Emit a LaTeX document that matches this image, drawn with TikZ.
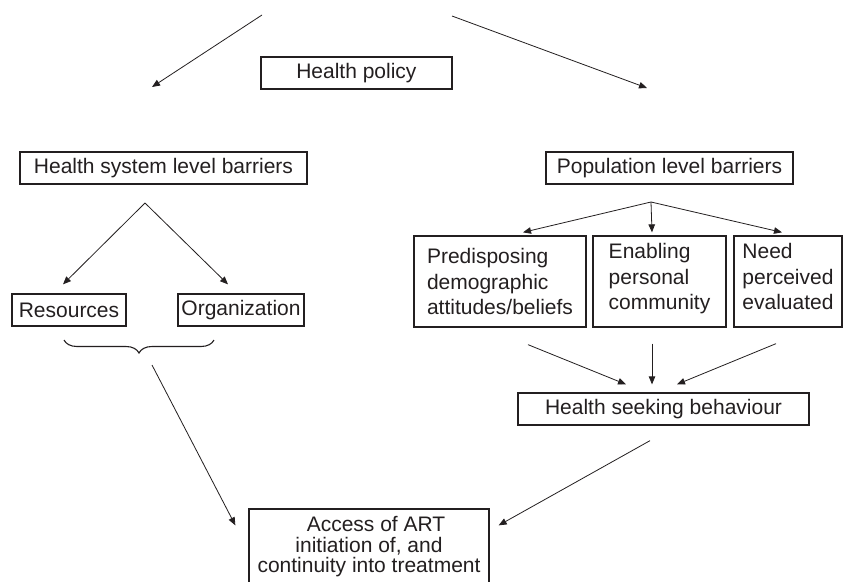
\documentclass[tikz,border=0pt]{standalone}
\usepackage{fontspec}
\setmainfont{Liberation Sans}
\usetikzlibrary{arrows.meta,decorations.pathreplacing}
\definecolor{ink}{HTML}{231F20}
\begin{document}
\begin{tikzpicture}[x=1pt,y=-1pt,
  box/.style={draw=ink, line width=1.3pt, inner sep=0pt, text=ink,
    font=\fontsize{21}{25.5}\selectfont},
  conn/.style={draw=ink, line width=0.8pt, -{Triangle[length=8pt,width=6.5pt]}},
  line/.style={draw=ink, line width=0.8pt}]
\useasboundingbox (0,0) rectangle (843,581);
\fill[white] (0,0) rectangle (843,581);

% boxes
\node[box, minimum width=191pt, minimum height=32pt] (hp) at (356.4,73) {Health policy};
\node[box, minimum width=287pt, minimum height=32pt] (hs) at (163.5,168) {Health system level barriers};
\node[box, minimum width=247pt, minimum height=32pt] (pop) at (669.5,168) {Population level barriers};
\node[box, minimum width=114pt, minimum height=32pt] (res) at (69,310) {Resources};
\node[box, minimum width=126pt, minimum height=32pt] (org) at (241,310) {Organization};
\node[box, minimum width=172pt, minimum height=91pt, align=left] (pred) at (500,281.5)
  {Predisposing\\demographic\\attitudes/beliefs};
\node[box, minimum width=133pt, minimum height=91pt, align=left] (enab) at (659.5,281.5)
  {Enabling\\personal\\community\\[-16pt]};
\node[box, minimum width=108pt, minimum height=91pt, align=left] (need) at (788,281.5)
  {Need\\perceived\\evaluated\\[-16pt]};
\node[box, minimum width=291pt, minimum height=32pt] (hsb) at (663.5,409) {Health seeking behaviour};
\node[box, minimum width=240pt, minimum height=76pt, align=center,
  font=\fontsize{21}{20.5}\selectfont] (acc) at (369,547)
  {\hspace*{14pt}Access of ART\\initiation of, and\\continuity into treatment};

% free coordinates
\coordinate (tl) at (262,15);
\coordinate (tr) at (452,16);
\coordinate (tle) at (152,87);
\coordinate (tre) at (647,88);
\coordinate (hsapex) at (145,203);
\coordinate (papex) at (651,202);
\coordinate (b1) at (64,340);
\coordinate (b2) at (214,340);
\coordinate (bs) at (152,365);

% top arrows
\draw[conn] (tl) -- (tle);
\draw[conn] (tr) -- (tre);

% health system branch
\draw[conn] (hsapex) -- ([xshift=-6pt,yshift=9pt]res.north);
\draw[conn] (hsapex) -- ([xshift=-13pt,yshift=9pt]org.north);

% population branch
\draw[conn] (papex) -- ([xshift=23pt,yshift=3pt]pred.north);
\draw[conn] (papex) -- ([xshift=-7.5pt,yshift=3pt]enab.north);
\draw[conn] (papex) -- ([xshift=-6pt,yshift=3pt]need.north);

% into health seeking behaviour
\draw[conn] ([xshift=28pt,yshift=-17pt]pred.south) -- ([xshift=-37.5pt,yshift=8pt]hsb.north);
\draw[conn] ([xshift=-7.5pt,yshift=-16pt]enab.south) -- ([xshift=-11.5pt,yshift=8pt]hsb.north);
\draw[conn] ([xshift=-12pt,yshift=-16pt]need.south) -- ([xshift=13.5pt,yshift=8pt]hsb.north);

% brace
\draw[ink, line width=1.1pt, decorate, decoration={brace, amplitude=13pt, mirror}] (b1) -- (b2);

% to access box
\draw[conn] (bs) -- ([xshift=-13pt,yshift=-17pt]acc.north west);
\draw[conn] ([xshift=-13.5pt,yshift=-15pt]hsb.south) -- ([xshift=9pt,yshift=-17pt]acc.north east);
\end{tikzpicture}
\end{document}
